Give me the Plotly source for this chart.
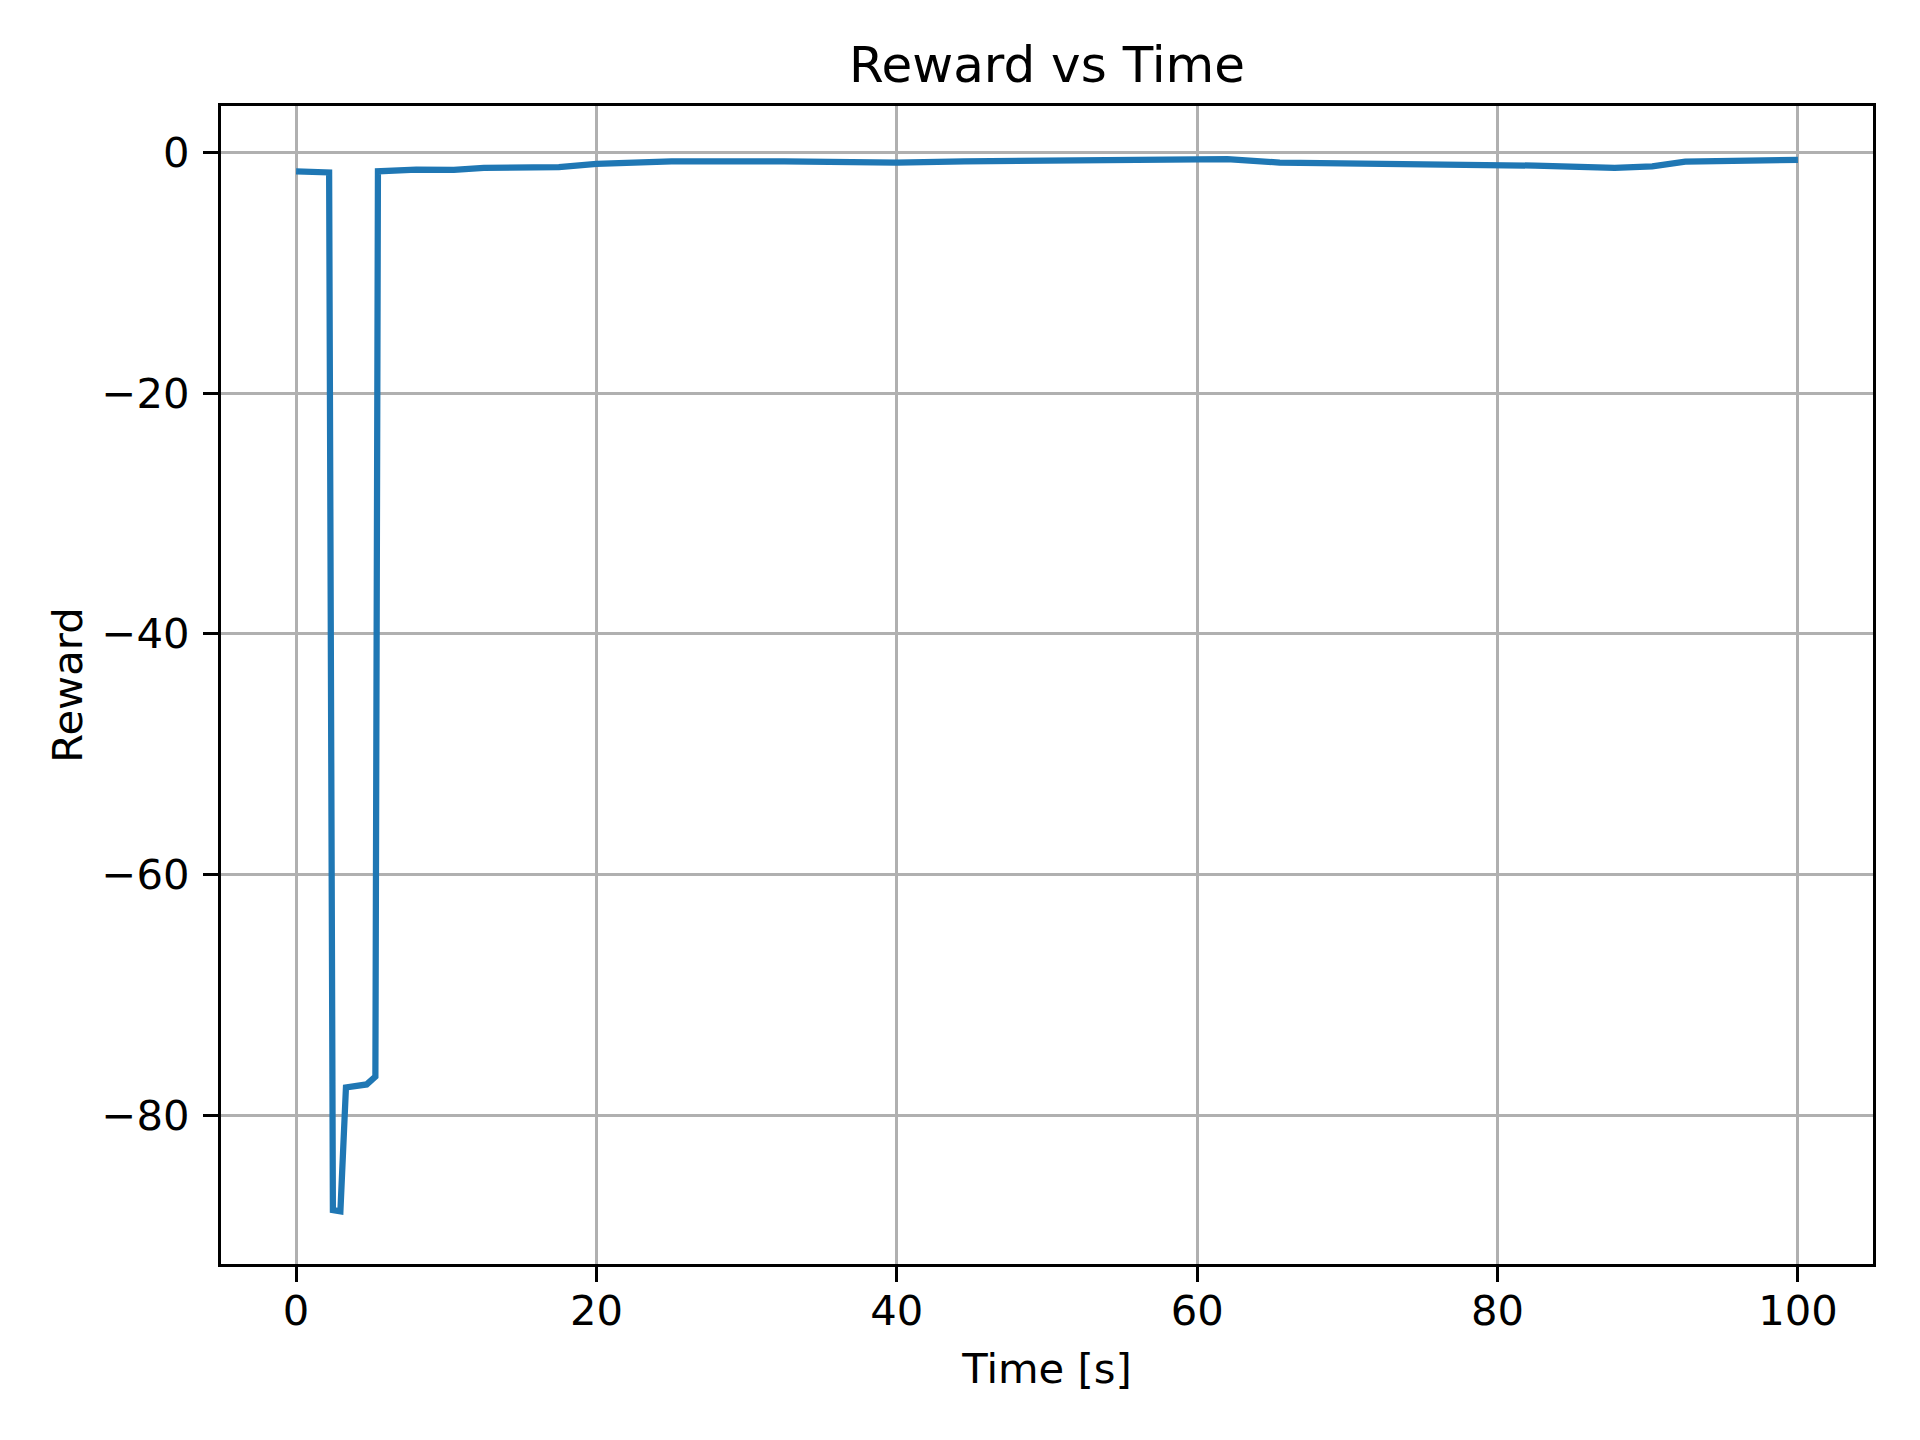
import plotly.graph_objects as go

# Data
time_s = [0.0, 2.2, 2.45, 2.95, 3.32, 4.7, 5.28, 5.45, 8.0, 10.5, 12.5, 15.0, 17.5,
          20.0, 25.0, 32.5, 35.0, 40.0, 44.5, 57.0, 60.5, 62.0, 65.5, 70.5, 72.5,
          75.5, 80.5, 82.5, 87.8, 90.3, 92.5, 96.0, 100.0]
reward = [-1.56, -1.65, -87.9, -88.0, -77.7, -77.45, -76.8, -1.55, -1.42, -1.43, -1.27,
          -1.18, -1.2, -0.93, -0.73, -0.73, -0.80, -0.83, -0.72, -0.58, -0.50, -0.55,
          -0.83, -0.89, -0.86, -0.91, -0.95, -1.08, -1.27, -1.14, -0.75, -0.65, -0.60]

x_ticks = [0, 20, 40, 60, 80, 100]
y_ticks = [0, -20, -40, -60, -80]

FONT = "DejaVu Sans"
W, H = 1920, 1440
L, R, T, B = 221, 47, 106, 176

def padded(vals, frac=0.05):
    lo, hi = min(vals), max(vals)
    span = hi - lo
    return [lo - frac * span, hi + frac * span]

fig = go.Figure()
fig.add_trace(go.Scatter(x=time_s, y=reward, mode="lines",
                         line=dict(color="#1f77b4", width=6.25), showlegend=False))

axis_common = dict(
    showline=True, linecolor="black", linewidth=3.3, mirror=True,
    showgrid=True, gridcolor="#b0b0b0", gridwidth=3.3,
    zeroline=False,
    ticks="outside", ticklen=15, tickwidth=3.3, tickcolor="black",
    tickfont=dict(family=FONT, size=41.7, color="black"),
)

fig.update_xaxes(range=padded(time_s), tickvals=x_ticks, ticklabelstandoff=-7,
                 title=dict(text="Time [s]", font=dict(family=FONT, size=41.7, color="black"),
                            standoff=20),
                 **axis_common)
fig.update_yaxes(range=padded(reward), tickvals=y_ticks, ticklabelstandoff=5,
                 title=dict(text="Reward", font=dict(family=FONT, size=41.7, color="black"),
                            standoff=6),
                 **axis_common)

fig.update_layout(
    width=W, height=H,
    margin=dict(l=L, r=R, t=T, b=B, pad=0),
    paper_bgcolor="white", plot_bgcolor="white",
    font=dict(family=FONT, color="black"),
    title=dict(text="Reward vs Time", x=0.5, xref="paper", xanchor="center",
               y=1 - 64 / H, yref="container", yanchor="middle",
               font=dict(family=FONT, size=50, color="black")),
)

fig.write_html("out.html", config={"displayModeBar": False},
               post_script="document.body.style.margin='0px';document.body.style.padding='0px';")
